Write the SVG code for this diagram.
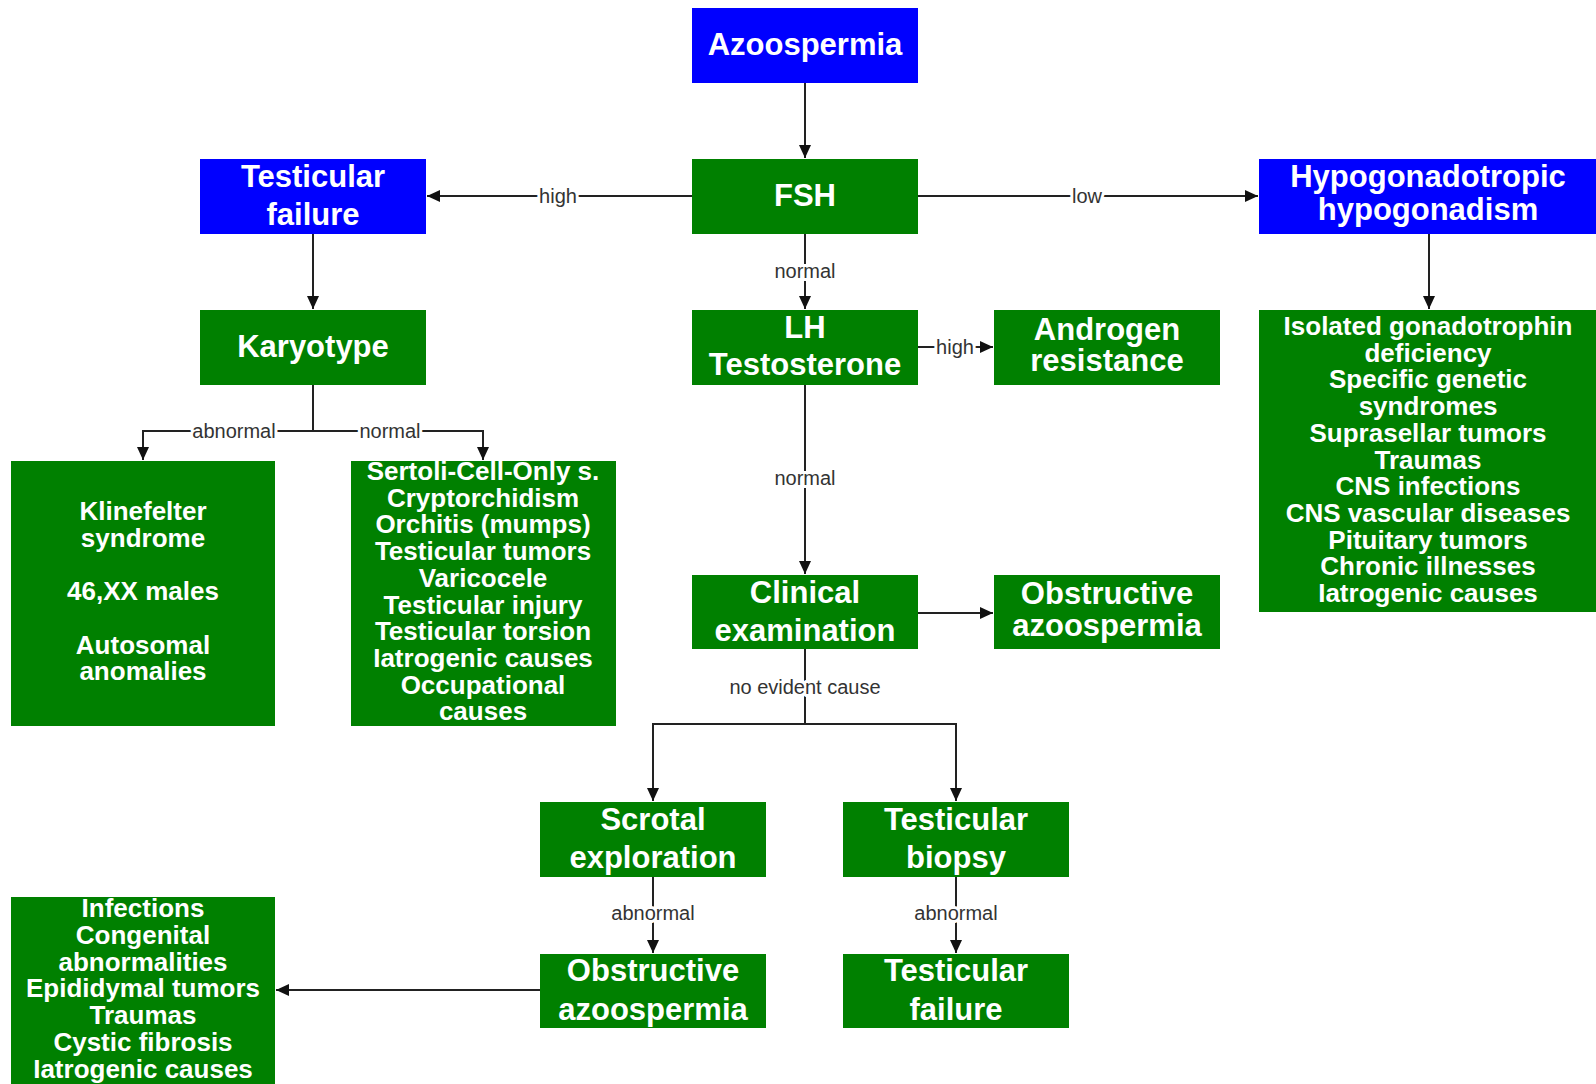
<svg xmlns="http://www.w3.org/2000/svg" width="1596" height="1084" viewBox="0 0 1596 1084">
<style>
.g{fill:#008000}
.b{fill:#0000ff}
.t{font-family:"Liberation Sans",Arial,sans-serif;font-weight:bold;font-size:31px;fill:#fff;text-anchor:middle}
.s{font-family:"Liberation Sans",Arial,sans-serif;font-weight:bold;font-size:26px;fill:#fff;text-anchor:middle}
.c{fill:none;stroke:#222;stroke-width:2}
.l{font-family:"Liberation Sans",Arial,sans-serif;font-size:20px;fill:#333;text-anchor:middle;stroke:#fff;stroke-width:6px;paint-order:stroke;stroke-linejoin:round}
</style>
<defs>
<marker id="ah" markerUnits="userSpaceOnUse" markerWidth="14" markerHeight="12" refX="13" refY="6" orient="auto">
<path d="M0,0 L13,6 L0,12 z" fill="#111"/>
</marker>
</defs>
<rect width="1596" height="1084" fill="#fff"/>
<g id="connectors">
<path class="c" d="M805 83 V158" marker-end="url(#ah)"/>
<path class="c" d="M692 196 H427" marker-end="url(#ah)"/>
<path class="c" d="M918 196 H1258" marker-end="url(#ah)"/>
<path class="c" d="M805 234 V309" marker-end="url(#ah)"/>
<path class="c" d="M313 234 V309" marker-end="url(#ah)"/>
<path class="c" d="M1429 234 V309" marker-end="url(#ah)"/>
<path class="c" d="M313 385 V431 H143 V460" marker-end="url(#ah)"/>
<path class="c" d="M313 431 H483 V460" marker-end="url(#ah)"/>
<path class="c" d="M918 347 H993" marker-end="url(#ah)"/>
<path class="c" d="M805 385 V574" marker-end="url(#ah)"/>
<path class="c" d="M918 613 H993" marker-end="url(#ah)"/>
<path class="c" d="M805 649 V724 H653 V801" marker-end="url(#ah)"/>
<path class="c" d="M805 724 H956 V801" marker-end="url(#ah)"/>
<path class="c" d="M653 877 V953" marker-end="url(#ah)"/>
<path class="c" d="M956 877 V953" marker-end="url(#ah)"/>
<path class="c" d="M540 990 H276" marker-end="url(#ah)"/>
<text class="l" x="558" y="203">high</text>
<text class="l" x="1087" y="203">low</text>
<text class="l" x="805" y="278">normal</text>
<text class="l" x="234" y="438">abnormal</text>
<text class="l" x="390" y="438">normal</text>
<text class="l" x="955" y="354">high</text>
<text class="l" x="805" y="485">normal</text>
<text class="l" x="805" y="694">no evident cause</text>
<text class="l" x="653" y="920">abnormal</text>
<text class="l" x="956" y="920">abnormal</text>
</g>
<g id="azoospermia"><rect class="b" x="692" y="8" width="226" height="75"/><text class="t" x="805" y="55">Azoospermia</text></g>
<g id="fsh"><rect class="g" x="692" y="159" width="226" height="75"/><text class="t" x="805" y="206">FSH</text></g>
<g id="testicular-failure"><rect class="b" x="200" y="159" width="226" height="75"/><text class="t" x="313" y="187">Testicular</text><text class="t" x="313" y="225">failure</text></g>
<g id="hypogonadotropic"><rect class="b" x="1259" y="159" width="345" height="75"/><text class="t" x="1428" y="187">Hypogonadotropic</text><text class="t" x="1428" y="220">hypogonadism</text></g>
<g id="karyotype"><rect class="g" x="200" y="310" width="226" height="75"/><text class="t" x="313" y="357">Karyotype</text></g>
<g id="lh"><rect class="g" x="692" y="310" width="226" height="75"/><text class="t" x="805" y="338">LH</text><text class="t" x="805" y="375">Testosterone</text></g>
<g id="androgen"><rect class="g" x="994" y="310" width="226" height="75"/><text class="t" x="1107" y="340">Androgen</text><text class="t" x="1107" y="371">resistance</text></g>
<g id="hypo-causes"><rect class="g" x="1259" y="310" width="345" height="302"/>
<text class="s" x="1428" y="335">Isolated gonadotrophin</text>
<text class="s" x="1428" y="361.7">deficiency</text>
<text class="s" x="1428" y="388.4">Specific genetic</text>
<text class="s" x="1428" y="415.1">syndromes</text>
<text class="s" x="1428" y="441.8">Suprasellar tumors</text>
<text class="s" x="1428" y="468.5">Traumas</text>
<text class="s" x="1428" y="495.2">CNS infections</text>
<text class="s" x="1428" y="521.9">CNS vascular diseases</text>
<text class="s" x="1428" y="548.6">Pituitary tumors</text>
<text class="s" x="1428" y="575.3">Chronic illnesses</text>
<text class="s" x="1428" y="602">Iatrogenic causes</text>
</g>
<g id="karyotype-abnormal"><rect class="g" x="11" y="461" width="264" height="265"/>
<text class="s" x="143" y="520">Klinefelter</text>
<text class="s" x="143" y="546.7">syndrome</text>
<text class="s" x="143" y="600">46,XX males</text>
<text class="s" x="143" y="653.5">Autosomal</text>
<text class="s" x="143" y="680">anomalies</text>
</g>
<g id="karyotype-normal"><rect class="g" x="351" y="461" width="265" height="265"/>
<text class="s" x="483" y="480">Sertoli-Cell-Only s.</text>
<text class="s" x="483" y="506.7">Cryptorchidism</text>
<text class="s" x="483" y="533.4">Orchitis (mumps)</text>
<text class="s" x="483" y="560.1">Testicular tumors</text>
<text class="s" x="483" y="586.8">Varicocele</text>
<text class="s" x="483" y="613.5">Testicular injury</text>
<text class="s" x="483" y="640.2">Testicular torsion</text>
<text class="s" x="483" y="666.9">Iatrogenic causes</text>
<text class="s" x="483" y="693.6">Occupational</text>
<text class="s" x="483" y="720.3">causes</text>
</g>
<g id="clinical"><rect class="g" x="692" y="575" width="226" height="74"/><text class="t" x="805" y="603">Clinical</text><text class="t" x="805" y="641">examination</text></g>
<g id="obstructive-1"><rect class="g" x="994" y="575" width="226" height="74"/><text class="t" x="1107" y="604">Obstructive</text><text class="t" x="1107" y="636">azoospermia</text></g>
<g id="scrotal"><rect class="g" x="540" y="802" width="226" height="75"/><text class="t" x="653" y="830">Scrotal</text><text class="t" x="653" y="868">exploration</text></g>
<g id="biopsy"><rect class="g" x="843" y="802" width="226" height="75"/><text class="t" x="956" y="830">Testicular</text><text class="t" x="956" y="868">biopsy</text></g>
<g id="obstructive-2"><rect class="g" x="540" y="954" width="226" height="74"/><text class="t" x="653" y="981">Obstructive</text><text class="t" x="653" y="1020">azoospermia</text></g>
<g id="testicular-failure-2"><rect class="g" x="843" y="954" width="226" height="74"/><text class="t" x="956" y="981">Testicular</text><text class="t" x="956" y="1020">failure</text></g>
<g id="obstructive-causes"><rect class="g" x="11" y="897" width="264" height="195"/>
<text class="s" x="143" y="917">Infections</text>
<text class="s" x="143" y="944">Congenital</text>
<text class="s" x="143" y="971">abnormalities</text>
<text class="s" x="143" y="997">Epididymal tumors</text>
<text class="s" x="143" y="1024">Traumas</text>
<text class="s" x="143" y="1051">Cystic fibrosis</text>
<text class="s" x="143" y="1078">Iatrogenic causes</text>
</g>
</svg>
